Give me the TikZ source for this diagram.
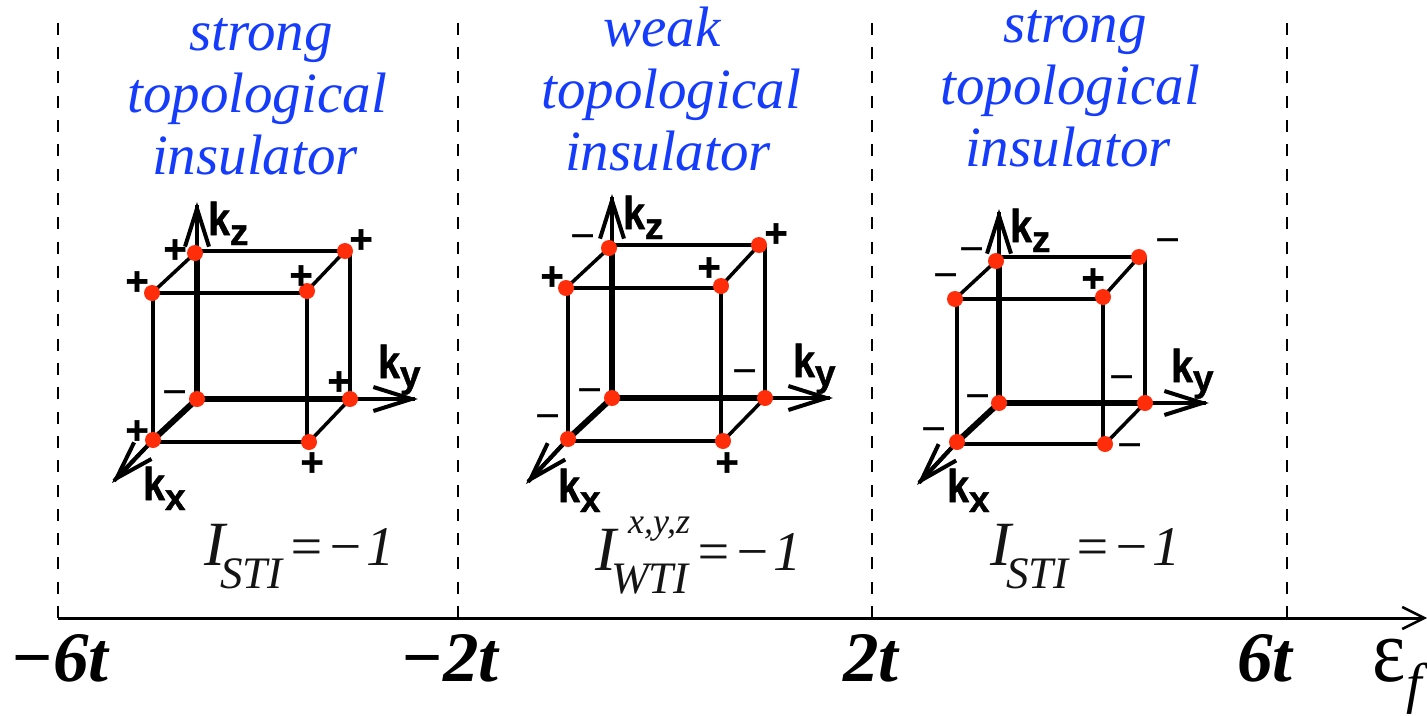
\documentclass[tikz,border=0pt]{standalone}
\usepackage{fontspec}
\setmainfont{Liberation Serif}
\newfontfamily\kfont{Liberation Sans}
\newfontfamily\kheavy{Liberation Sans Bold}[FakeBold=1.2]
\usetikzlibrary{arrows.meta}
\pgfdeclarelayer{edges}
\pgfsetlayers{edges,main}
\definecolor{phaseblue}{RGB}{20,60,250}
\definecolor{dotred}{RGB}{255,45,10}
\newcommand{\fsz}[1]{\fontsize{#1pt}{#1pt}\selectfont}
\tikzset{
  x=1pt,y=-1pt,
  dot/.style={circle,fill=dotred,inner sep=0,minimum size=16pt},
  edgethin/.style={line width=3.5pt,black},
  edgethick/.style={line width=6pt,black},
  shaft/.style={line width=4pt,shorten >=3pt},
  barbarrow/.style={line width=4pt,-{Straight Barb[length=38pt,width=24pt,line width=4pt]}},
  sgn/.style={inner sep=0,font=\kheavy\fsz{40}},
  neg/.style={inner sep=0,font=\kfont\fsz{43}},
  klabel/.style={inner sep=0,anchor=base west,font=\kheavy},
  phase/.style={inner sep=0,align=center,text=phaseblue,font={\itshape\fontsize{57pt}{62pt}\selectfont}},
  inv/.style={inner sep=0,anchor=base west,font=\itshape,text=black!92},
  tick/.style={inner sep=0,anchor=base west,font=\bfseries\itshape\fsz{71}},
  bound/.style={line width=2.4pt,dash pattern=on 12pt off 12.3pt},
  axisline/.style={line width=3pt,-{Straight Barb[length=22pt,width=22pt,line width=2.5pt]}},
}
\newcommand{\klab}[5]{\node[klabel] (#1) at (#2,#3) {\scalebox{.85}[1]{\fsz{46}k}\hspace*{0pt}\raisebox{#5pt}{\fsz{37}#4}};}
\newcommand{\cube}[9]{%
 \node[dot] (#1btl) at #2 {};
 \node[dot] (#1btr) at #3 {};
 \node[dot] (#1ftl) at #4 {};
 \node[dot] (#1ftr) at #5 {};
 \node[dot] (#1o) at #6 {};
 \node[dot] (#1bbr) at #7 {};
 \node[dot] (#1fbl) at #8 {};
 \node[dot] (#1fbr) at #9 {};
 \begin{pgfonlayer}{edges}
 \draw[edgethin] (#1btl.center |- #1btr.center)--(#1btr.center);
 \draw[edgethin] (#1ftl.center)--(#1ftr.center |- #1ftl.center);
 \draw[edgethin] (#1fbl.center |- #1fbr.center)--(#1fbr.center);
 \draw[edgethin] (#1btl.center)--(#1ftl.center);
 \draw[edgethin] (#1btr.center)--(#1ftr.center);
 \draw[edgethin] (#1bbr.center)--(#1fbr.center);
 \draw[edgethin] (#1fbl.center |- #1ftl.center)--(#1fbl.center);
 \draw[edgethin] (#1ftr.center)--(#1ftr.center |- #1fbr.center);
 \draw[edgethin] (#1bbr.center |- #1btr.center)--(#1bbr.center);
 \draw[edgethick] (#1o.center)--(#1o.center |- #1btl.center);
 \draw[edgethick] (#1o.center)--(#1bbr.center);
 \draw[edgethick] (#1o.center)--(#1fbl.center);
 \draw[shaft] (#1o.center |- #1btl.center)--(#1tz);
 \draw[shaft] (#1bbr.center)--(#1ty);
 \draw[shaft] (#1fbl.center)--(#1tx);
 \draw[barbarrow] (#1o.center |- #1btl.center)--(#1tz);
 \draw[barbarrow] (#1bbr.center)--(#1ty);
 \draw[barbarrow] (#1fbl.center)--(#1tx);
 \end{pgfonlayer}
}
\newcommand{\stival}[3]{\node[inv] (#1) at (#2,#3) {\fsz{63}I\hspace*{-5pt}\raisebox{-23pt}{\fsz{45}STI}\hspace*{5pt}\fsz{56}=\hspace*{1pt}−\hspace*{2pt}1};}
\begin{document}
\begin{tikzpicture}
\useasboundingbox (0,0) rectangle (1427,715);
% axis
\coordinate (a1) at (58,618); \coordinate (a2) at (458,618);
\coordinate (a3) at (872,618); \coordinate (a4) at (1287,618);
\coordinate (aend) at (1427,618);
\coordinate (t1) at (58,15); \coordinate (t2) at (458,15);
\coordinate (t3) at (872,15); \coordinate (t4) at (1287,15);
\draw[bound] (a1)--(t1); \draw[bound] (a2)--(t2);
\draw[bound] (a3)--(t3); \draw[bound] (a4)--(t4);
\draw[axisline] (a1)--(aend);
% phases
\node[phase] (p1) at (257,97) {\hspace*{8pt}strong\\topological\\\hspace*{-4pt}insulator};
\node[phase] (p2) at (671,89) {\hspace*{-18pt}weak\\topological\\\hspace*{-6pt}insulator};
\node[phase] (p3) at (1070,89) {\hspace*{10pt}strong\\topological\\\hspace*{-4pt}insulator};
% cube tips
\coordinate (Atz) at (197,202); \coordinate (Aty) at (418,399); \coordinate (Atx) at (112,483);
\coordinate (Btz) at (612,194); \coordinate (Bty) at (833,398); \coordinate (Btx) at (526,484);
\coordinate (Ctz) at (999,209); \coordinate (Cty) at (1209,403); \coordinate (Ctx) at (917,485);
\cube{A}{(195,253)}{(345,251)}{(152,293)}{(307,291)}{(197,399)}{(350,399)}{(153,440)}{(309,442)}
\cube{B}{(609,248)}{(759,245)}{(566,288)}{(721,286)}{(612,398)}{(765,398)}{(568,439)}{(723,441)}
\cube{C}{(996,261)}{(1139,257)}{(955,299)}{(1103,297)}{(999,403)}{(1145,403)}{(957,442)}{(1105,444)}
% k labels
\klab{Akz}{208}{235}{z}{-10}
\klab{Aky}{378}{378}{y}{-9}
\klab{Akx}{143}{500}{x}{-10}
\klab{Bkz}{623}{229}{z}{-10}
\klab{Bky}{793}{377}{y}{-9}
\klab{Bkx}{558}{502}{x}{-10}
\klab{Ckz}{1010}{242}{z}{-10}
\klab{Cky}{1171}{382}{y}{-9}
\klab{Ckx}{947}{502}{x}{-10}
% signs cube A
\node[sgn] (As1) at (175,251) {+};
\node[sgn] (As2) at (361,241) {+};
\node[sgn] (As3) at (137,283) {+};
\node[sgn] (As4) at (301,277) {+};
\node[neg] (As5) at (175,399) {−};
\node[sgn] (As6) at (339,383) {+};
\node[sgn] (As7) at (137,432) {+};
\node[sgn] (As8) at (312,464) {+};
% signs cube B
\node[neg] (Bs1) at (583,243) {−};
\node[sgn] (Bs2) at (776,235) {+};
\node[sgn] (Bs3) at (552,278) {+};
\node[sgn] (Bs4) at (709,269) {+};
\node[neg] (Bs5) at (590,397) {−};
\node[neg] (Bs6) at (745,378) {−};
\node[neg] (Bs7) at (548,423) {−};
\node[sgn] (Bs8) at (727,464) {+};
% signs cube C
\node[neg] (Cs1) at (972,256) {−};
\node[neg] (Cs2) at (1168,247) {−};
\node[neg] (Cs3) at (946,282) {−};
\node[sgn] (Cs4) at (1093,280) {+};
\node[neg] (Cs5) at (978,403) {−};
\node[neg] (Cs6) at (1122,384) {−};
\node[neg] (Cs7) at (934,436) {−};
\node[neg] (Cs8) at (1130,452) {−};
% invariants
\stival{i1}{204}{565}
\node[inv] (i2) at (595,570) {\fsz{63}I\hspace*{-5pt}\raisebox{-23pt}{\fsz{45}WTI}\hspace*{6pt}\fsz{56}=\hspace*{1pt}−\hspace*{2pt}1};
\node[inv,font=\itshape\fsz{36}] (i2s) at (628,533) {x,y,z};
\stival{i3}{990}{565}
% ticks
\node[tick] (n1) at (10,681) {−6t};
\node[tick] (n2) at (400,681) {−2t};
\node[tick] (n3) at (843,681) {2t};
\node[tick] (n4) at (1237,681) {6t};
\node[inner sep=0,anchor=base west] (eps) at (1372,681) {\scalebox{.88}[1]{\fsz{90}ε}\hspace*{1pt}\raisebox{-21pt}{\itshape\fsz{56}f}};
\end{tikzpicture}
\end{document}
